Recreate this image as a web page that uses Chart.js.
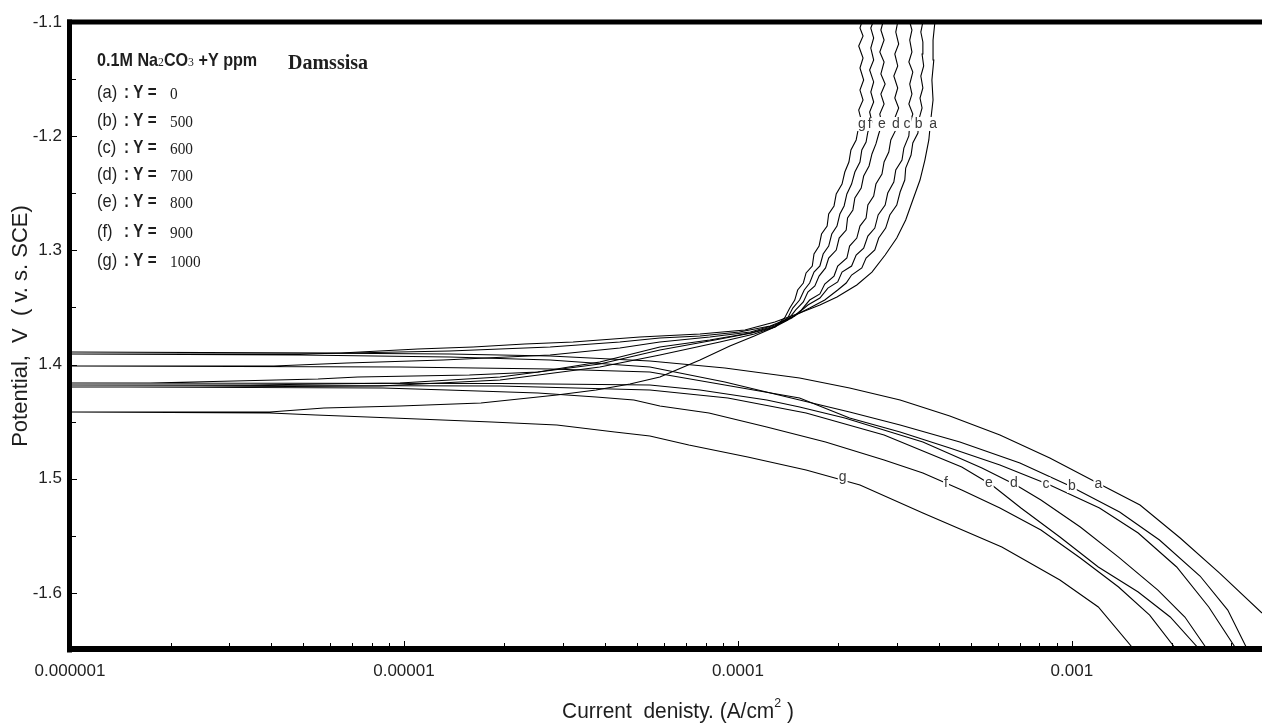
<!DOCTYPE html>
<html><head><meta charset="utf-8">
<script src="https://cdn.jsdelivr.net/npm/chart.js@4.4.1/dist/chart.umd.min.js"></script>
<style>html,body{margin:0;padding:0;background:#fff;}#wrap{width:1262px;height:725px;}</style>
</head><body><div id="wrap"><canvas id="c" width="1262" height="725"></canvas></div>
<script>
// ---------- data (current A/cm2, potential V vs SCE) ----------
const curveNames = ['a','b','c','d','e','f','g'];
const inhibitorPpm = [0, 500, 600, 700, 800, 900, 1000];

const aCurrent = [3.71e-3,2.77e-3,2.11e-3,1.60e-3,1.21e-3,8.59e-4,6.09e-4,4.31e-4,3.06e-4,2.16e-4,1.53e-4,9.14e-5,5.45e-5,2.74e-5,1.37e-5,4.88e-6,1.00e-6,
 6.48e-6,1.10e-5,1.61e-5,2.30e-5,3.21e-5,5.09e-5,7.70e-5,1.05e-4,1.29e-4,1.53e-4,1.76e-4,1.98e-4,2.27e-4,2.52e-4,2.76e-4,2.99e-4,3.18e-4,3.34e-4,3.51e-4,3.63e-4,3.73e-4,3.78e-4,3.84e-4,3.81e-4,3.86e-4,3.84e-4,3.89e-4];
const aPotential = [-1.6176,-1.5826,-1.5519,-1.5230,-1.5046,-1.4818,-1.4617,-1.4451,-1.4311,-1.4205,-1.4118,-1.4030,-1.3969,-1.3925,-1.3908,-1.3899,-1.3890,
 -1.3899,-1.3864,-1.3846,-1.3820,-1.3803,-1.3759,-1.3733,-1.3697,-1.3627,-1.3549,-1.3479,-1.3408,-1.3303,-1.3190,-1.3041,-1.2892,-1.2734,-1.2559,-1.2384,-1.2209,-1.2033,-1.1858,-1.1683,-1.1508,-1.1333,-1.1158,-1.1000];

const bCurrent = [3.36e-3,2.93e-3,2.42e-3,1.83e-3,1.39e-3,9.73e-4,6.99e-4,4.62e-4,3.06e-4,2.16e-4,1.53e-4,9.14e-5,5.45e-5,2.74e-5,1.37e-5,4.88e-6,1.00e-6,
 4.88e-6,1.37e-5,2.74e-5,4.43e-5,5.84e-5,7.70e-5,1.01e-4,1.25e-4,1.43e-4,1.64e-4,1.82e-4,1.99e-4,2.11e-4,2.19e-4,2.35e-4,2.42e-4,2.57e-4,2.64e-4,2.77e-4,2.85e-4,
 2.99e-4,3.06e-4,3.16e-4,3.18e-4,3.30e-4,3.34e-4,3.46e-4,3.48e-4,3.56e-4,3.51e-4,3.58e-4,3.53e-4,3.60e-4,3.56e-4,3.58e-4,3.53e-4,3.58e-4];
const bPotential = [-1.6500,-1.6150,-1.5852,-1.5537,-1.5291,-1.5055,-1.4862,-1.4679,-1.4529,-1.4416,-1.4311,-1.4153,-1.4022,-1.3960,-1.3934,-1.3917,-1.3908,
 -1.3908,-1.3882,-1.3846,-1.3803,-1.3768,-1.3750,-1.3715,-1.3662,-1.3592,-1.3505,-1.3435,-1.3347,-1.3286,-1.3216,-1.3154,-1.3067,-1.2997,-1.2892,-1.2805,-1.2690,
 -1.2603,-1.2489,-1.2384,-1.2279,-1.2165,-1.2060,-1.1972,-1.1858,-1.1753,-1.1666,-1.1578,-1.1473,-1.1385,-1.1280,-1.1175,-1.1088,-1.1000];

const cCurrent = [3.12e-3,2.57e-3,2.06e-3,1.58e-3,1.21e-3,8.59e-4,6.09e-4,4.31e-4,3.06e-4,2.16e-4,1.53e-4,9.14e-5,5.45e-5,2.74e-5,9.73e-6,1.00e-6,
 4.08e-6,6.75e-6,1.31e-5,2.74e-5,4.43e-5,5.84e-5,8.24e-5,1.09e-4,1.29e-4,1.48e-4,1.62e-4,1.76e-4,1.86e-4,1.99e-4,2.05e-4,2.19e-4,2.26e-4,2.38e-4,2.45e-4,2.57e-4,
 2.63e-4,2.76e-4,2.81e-4,2.93e-4,2.97e-4,3.10e-4,3.14e-4,3.25e-4,3.27e-4,3.34e-4,3.25e-4,3.32e-4,3.27e-4,3.34e-4,3.25e-4,3.32e-4,3.27e-4,3.32e-4,3.27e-4];
const cPotential = [-1.6500,-1.6123,-1.5773,-1.5475,-1.5256,-1.5055,-1.4880,-1.4731,-1.4591,-1.4468,-1.4293,-1.4179,-1.4065,-1.4039,-1.4022,-1.4013,
 -1.4013,-1.3987,-1.3960,-1.3917,-1.3855,-1.3803,-1.3759,-1.3715,-1.3654,-1.3575,-1.3479,-1.3417,-1.3330,-1.3277,-1.3190,-1.3137,-1.3041,-1.2980,-1.2875,-1.2805,
 -1.2690,-1.2603,-1.2498,-1.2401,-1.2296,-1.2209,-1.2104,-1.1998,-1.1893,-1.1806,-1.1718,-1.1631,-1.1543,-1.1438,-1.1350,-1.1263,-1.1158,-1.1070,-1.1000];

const dCurrent = [2.55e-3,2.18e-3,1.81e-3,1.38e-3,1.06e-3,8.08e-4,6.80e-4,5.38e-4,3.58e-4,2.09e-4,1.53e-4,1.22e-4,7.70e-5,5.45e-5,1.94e-5,1.00e-6,
 1.74e-6,5.53e-6,7.28e-6,1.57e-5,2.52e-5,3.86e-5,5.84e-5,8.24e-5,1.09e-4,1.29e-4,1.45e-4,1.55e-4,1.64e-4,1.76e-4,1.82e-4,1.94e-4,1.99e-4,2.12e-4,2.16e-4,2.27e-4,
 2.32e-4,2.42e-4,2.45e-4,2.55e-4,2.59e-4,2.70e-4,2.74e-4,2.83e-4,2.87e-4,2.97e-4,2.95e-4,3.03e-4,2.95e-4,3.01e-4,2.93e-4,3.01e-4,2.95e-4,3.03e-4,2.97e-4,3.01e-4];
const dPotential = [-1.6500,-1.6211,-1.5975,-1.5686,-1.5423,-1.5186,-1.5055,-1.4906,-1.4679,-1.4468,-1.4372,-1.4311,-1.4223,-1.4179,-1.4166,-1.4162,
 -1.4162,-1.4127,-1.4109,-1.4092,-1.4065,-1.3978,-1.3846,-1.3785,-1.3724,-1.3662,-1.3592,-1.3522,-1.3435,-1.3382,-1.3295,-1.3225,-1.3137,-1.3067,-1.2962,-1.2892,
 -1.2787,-1.2717,-1.2603,-1.2524,-1.2419,-1.2331,-1.2226,-1.2139,-1.2033,-1.1946,-1.1841,-1.1753,-1.1666,-1.1578,-1.1473,-1.1385,-1.1280,-1.1193,-1.1088,-1.1000];

const eCurrent = [2.42e-3,1.97e-3,1.58e-3,1.20e-3,9.21e-4,7.04e-4,5.76e-4,4.68e-4,2.74e-4,1.60e-4,9.33e-5,5.45e-5,1.94e-5,1.00e-6,
 3.46e-6,9.73e-6,1.94e-5,3.86e-5,5.84e-5,8.53e-5,1.10e-4,1.29e-4,1.41e-4,1.49e-4,1.57e-4,1.62e-4,1.70e-4,1.75e-4,1.83e-4,1.87e-4,1.97e-4,2.01e-4,2.11e-4,2.13e-4,
 2.21e-4,2.24e-4,2.34e-4,2.38e-4,2.47e-4,2.52e-4,2.59e-4,2.64e-4,2.70e-4,2.66e-4,2.74e-4,2.68e-4,2.76e-4,2.68e-4,2.74e-4,2.66e-4,2.74e-4,2.68e-4,2.72e-4];
const ePotential = [-1.6500,-1.6211,-1.5992,-1.5773,-1.5510,-1.5256,-1.5055,-1.4897,-1.4617,-1.4424,-1.4293,-1.4223,-1.4188,-1.4179,
 -1.4179,-1.4162,-1.4109,-1.3995,-1.3873,-1.3785,-1.3724,-1.3671,-1.3610,-1.3522,-1.3452,-1.3365,-1.3312,-1.3225,-1.3154,-1.3067,-1.2997,-1.2892,-1.2822,-1.2717,
 -1.2646,-1.2541,-1.2454,-1.2349,-1.2261,-1.2156,-1.2068,-1.1981,-1.1893,-1.1806,-1.1718,-1.1631,-1.1543,-1.1455,-1.1350,-1.1263,-1.1158,-1.1070,-1.1000];

const fCurrent = [2.06e-3,1.71e-3,1.38e-3,1.06e-3,8.08e-4,6.09e-4,4.68e-4,3.58e-4,2.74e-4,1.83e-4,1.22e-4,8.19e-5,5.84e-5,4.88e-5,3.76e-5,2.52e-5,1.35e-5,8.65e-6,1.50e-6,1.00e-6,
 2.45e-6,8.47e-6,1.94e-5,3.86e-5,5.84e-5,8.83e-5,1.12e-4,1.29e-4,1.41e-4,1.46e-4,1.53e-4,1.58e-4,1.64e-4,1.69e-4,1.76e-4,1.80e-4,1.87e-4,1.91e-4,1.98e-4,2.02e-4,
 2.08e-4,2.12e-4,2.19e-4,2.24e-4,2.32e-4,2.35e-4,2.42e-4,2.45e-4,2.52e-4,2.48e-4,2.55e-4,2.50e-4,2.55e-4,2.48e-4,2.55e-4,2.50e-4,2.55e-4,2.50e-4,2.54e-4];
const fPotential = [-1.6500,-1.6194,-1.5948,-1.5694,-1.5449,-1.5256,-1.5099,-1.4950,-1.4836,-1.4679,-1.4547,-1.4424,-1.4363,-1.4311,-1.4284,-1.4249,-1.4223,-1.4205,-1.4197,-1.4197,
 -1.4197,-1.4188,-1.4135,-1.4022,-1.3917,-1.3803,-1.3733,-1.3671,-1.3592,-1.3505,-1.3435,-1.3347,-1.3286,-1.3190,-1.3137,-1.3032,-1.2962,-1.2857,-1.2787,-1.2682,
 -1.2611,-1.2506,-1.2419,-1.2314,-1.2226,-1.2121,-1.2051,-1.1963,-1.1876,-1.1788,-1.1701,-1.1613,-1.1525,-1.1420,-1.1333,-1.1228,-1.1140,-1.1053,-1.1000];

const gCurrent = [1.54e-3,1.20e-3,9.21e-4,6.17e-4,3.58e-4,2.32e-4,1.60e-4,1.07e-4,7.13e-5,5.45e-5,4.28e-5,2.87e-5,1.83e-5,9.27e-6,5.45e-6,3.97e-6,1.00e-6,
 3.97e-6,5.76e-6,9.73e-6,1.70e-5,2.87e-5,3.76e-5,4.75e-5,5.84e-5,7.70e-5,9.46e-5,1.12e-4,1.29e-4,1.38e-4,1.43e-4,1.48e-4,1.51e-4,1.57e-4,1.60e-4,1.67e-4,1.69e-4,
 1.75e-4,1.78e-4,1.85e-4,1.87e-4,1.94e-4,1.97e-4,2.05e-4,2.09e-4,2.15e-4,2.18e-4,2.26e-4,2.29e-4,2.34e-4,2.30e-4,2.37e-4,2.32e-4,2.38e-4,2.32e-4,2.37e-4,2.30e-4,
 2.37e-4,2.32e-4,2.35e-4];
const gPotential = [-1.6500,-1.6123,-1.5887,-1.5598,-1.5300,-1.5055,-1.4924,-1.4810,-1.4705,-1.4626,-1.4591,-1.4529,-1.4503,-1.4468,-1.4442,-1.4424,-1.4416,
 -1.4416,-1.4381,-1.4363,-1.4337,-1.4267,-1.4223,-1.4170,-1.4109,-1.3960,-1.3838,-1.3750,-1.3671,-1.3592,-1.3505,-1.3435,-1.3347,-1.3286,-1.3198,-1.3137,-1.3032,
 -1.2962,-1.2857,-1.2787,-1.2682,-1.2611,-1.2506,-1.2419,-1.2314,-1.2226,-1.2121,-1.2033,-1.1946,-1.1858,-1.1771,-1.1683,-1.1596,-1.1508,-1.1403,-1.1315,-1.1210,
 -1.1123,-1.1053,-1.1000];

// curve letter labels (a..g)
const topLabelCurrent = [3.84e-4,3.48e-4,3.21e-4,2.97e-4,2.70e-4,2.48e-4,2.35e-4];
const topLabelPotential = -1.1893;
const bottomLabelCurrent = [1.20e-3,1.00e-3,8.36e-4,6.70e-4,5.64e-4,4.20e-4,2.06e-4];
const bottomLabelPotential = [-1.5046,-1.5064,-1.5046,-1.5037,-1.5037,-1.5037,-1.4985];

// axes
const xMin = 1e-6, xMax = 3.71e-3;
const xTickValues = [1e-6, 1e-5, 1e-4, 1e-3];
const xTickLabels = ['0.000001', '0.00001', '0.0001', '0.001'];
const yMin = -1.65, yMax = -1.1;
const yTickValues = [-1.6, -1.5, -1.4, -1.3, -1.2, -1.1];
const yTickLabels = ['-1.6', '1.5', '1.4', '1.3', '-1.2', '-1.1'];
const yMinorValues = [-1.15, -1.25, -1.35, -1.45, -1.55, -1.65];

// ---------- chart ----------
const SANS = "'Liberation Sans', Arial, sans-serif";
const SERIF = "'Liberation Serif', 'Times New Roman', serif";
const currents = [aCurrent, bCurrent, cCurrent, dCurrent, eCurrent, fCurrent, gCurrent];
const potentials = [aPotential, bPotential, cPotential, dPotential, ePotential, fPotential, gPotential];

const datasets = curveNames.map((n, i) => ({
  label: n,
  data: currents[i].map((x, j) => ({x: x, y: potentials[i][j]})),
  showLine: true, borderColor: '#000', borderWidth: 1.1, pointRadius: 0, tension: 0, fill: false
}));

// draw a sequence of text runs [text, font, dy, squeeze] left to right
function drawRuns(ctx, x, y, parts, measureOnly) {
  let cx = x;
  for (const p of parts) {
    const k = p[3] || 1;
    ctx.font = p[1];
    const w = ctx.measureText(p[0]).width * k;
    if (!measureOnly) {
      ctx.save(); ctx.translate(cx, y + (p[2] || 0)); ctx.scale(k, 1);
      ctx.fillText(p[0], 0, 0); ctx.restore();
    }
    cx += w;
  }
  return cx - x;
}

const decor = {
  id: 'decor',
  afterDatasetsDraw(chart) {
    const {ctx, chartArea: ca} = chart;
    const xs = chart.scales.x, ys = chart.scales.y;
    ctx.save();
    // letter labels on curves
    ctx.font = '14px ' + SANS; ctx.textAlign = 'center'; ctx.textBaseline = 'middle';
    curveNames.forEach((n, i) => {
      [[topLabelCurrent[i], topLabelPotential], [bottomLabelCurrent[i], bottomLabelPotential[i]]].forEach(p => {
        const px = xs.getPixelForValue(p[0]), py = ys.getPixelForValue(p[1]);
        const w = ctx.measureText(n).width + 2;
        ctx.fillStyle = '#fff'; ctx.fillRect(px - w / 2, py - 7, w, 14);
        ctx.fillStyle = '#3a3a3a'; ctx.fillText(n, px, py);
      });
    });
    // frame
    ctx.fillStyle = '#000';
    ctx.fillRect(ca.left - 3, ca.top - 2.5, ca.right - ca.left + 3, 5);
    ctx.fillRect(ca.left - 3, ca.top - 2.5, 5, ca.bottom - ca.top + 5);
    ctx.fillRect(ca.left - 3, ca.bottom - 4, ca.right - ca.left + 3, 6);
    // inner tick marks
    ctx.strokeStyle = '#000'; ctx.lineWidth = 1;
    ctx.beginPath();
    xTickValues.forEach(base => {
      for (let k = 1; k <= 9; k++) {
        const v = k * base;
        if (v <= xs.min * 1.0001 || v >= xs.max) continue;
        const px = Math.round(xs.getPixelForValue(v)) + 0.5;
        const len = k === 1 ? 5 : 3;
        ctx.moveTo(px, ca.bottom - 4); ctx.lineTo(px, ca.bottom - 4 - len);
      }
    });
    yTickValues.concat(yMinorValues).forEach(v => {
      if (v >= ys.max - 1e-9 || v <= ys.min + 1e-9) return;
      const py = Math.round(ys.getPixelForValue(v)) + 0.5;
      const len = yTickValues.includes(v) ? 5 : 4;
      ctx.moveTo(ca.left + 2, py); ctx.lineTo(ca.left + 2 + len, py);
    });
    ctx.stroke();
    ctx.restore();
  },
  afterDraw(chart) {
    const ctx = chart.ctx;
    ctx.save();
    ctx.fillStyle = '#1e1e1e';
    ctx.textAlign = 'left'; ctx.textBaseline = 'alphabetic';
    // legend block
    const B = 'bold 19px ' + SANS, SUB = '13px ' + SERIF;
    drawRuns(ctx, 97, 66, [['0.1M Na', B, 0, 0.85], ['2', SUB, 0, 0.9], ['CO', B, 0, 0.85], ['3', SUB, 0, 0.9], [' +Y ppm', B, 0, 0.85]]);
    drawRuns(ctx, 288, 69, [['Damssisa', 'bold 20px ' + SERIF, 0, 1]]);
    const rows = [98, 126, 153, 180, 207, 237, 266];
    curveNames.forEach((n, i) => {
      drawRuns(ctx, 97, rows[i], [['(' + n + ')', '19px ' + SANS, 0, 0.87]]);
      drawRuns(ctx, 124, rows[i], [[': Y =', 'bold 19px ' + SANS, 0, 0.8]]);
      drawRuns(ctx, 170, rows[i] + 1, [[String(inhibitorPpm[i]), '17px ' + SERIF, 0, 0.9]]);
    });
    // x title
    const xt = [['Current  denisty. (A/cm', '22px ' + SANS, 0, 0.95], ['2', '13px ' + SANS, -9, 0.95], [' )', '22px ' + SANS, 0, 0.95]];
    ctx.textBaseline = 'middle';
    const w = drawRuns(ctx, 0, 0, xt, true);
    drawRuns(ctx, 678 - w / 2, 712, xt);
    // y title
    ctx.translate(21, 326); ctx.rotate(-Math.PI / 2);
    ctx.textAlign = 'center'; ctx.font = '22px ' + SANS;
    ctx.fillText('Potential,  V  ( v. s. SCE)', 0, 0);
    ctx.restore();
  }
};

new Chart(document.getElementById('c'), {
  type: 'scatter',
  data: {datasets: datasets},
  options: {
    responsive: false, animation: false, devicePixelRatio: 1,
    layout: {padding: {top: 22, right: 0, left: 0, bottom: 0}},
    plugins: {legend: {display: false}, tooltip: {enabled: false}},
    scales: {
      x: {
        type: 'logarithmic', min: xMin, max: xMax,
        afterFit: s => { s.height = 75; },
        afterBuildTicks: s => { s.ticks = xTickValues.map(v => ({value: v})); },
        grid: {display: false, drawTicks: false}, border: {display: false},
        ticks: {autoSkip: false, maxRotation: 0, minRotation: 0, padding: 11, color: '#222',
          font: {family: SANS, size: 17}, callback: (v, i) => xTickLabels[i]}
      },
      y: {
        type: 'linear', min: yMin, max: yMax,
        afterFit: s => { s.width = 70; },
        afterBuildTicks: s => { s.ticks = yTickValues.map(v => ({value: v})); },
        grid: {display: false, drawTicks: false}, border: {display: false},
        ticks: {padding: 8, color: '#222', font: {family: SANS, size: 17}, callback: (v, i) => yTickLabels[i]}
      }
    }
  },
  plugins: [decor]
});
</script></body></html>
